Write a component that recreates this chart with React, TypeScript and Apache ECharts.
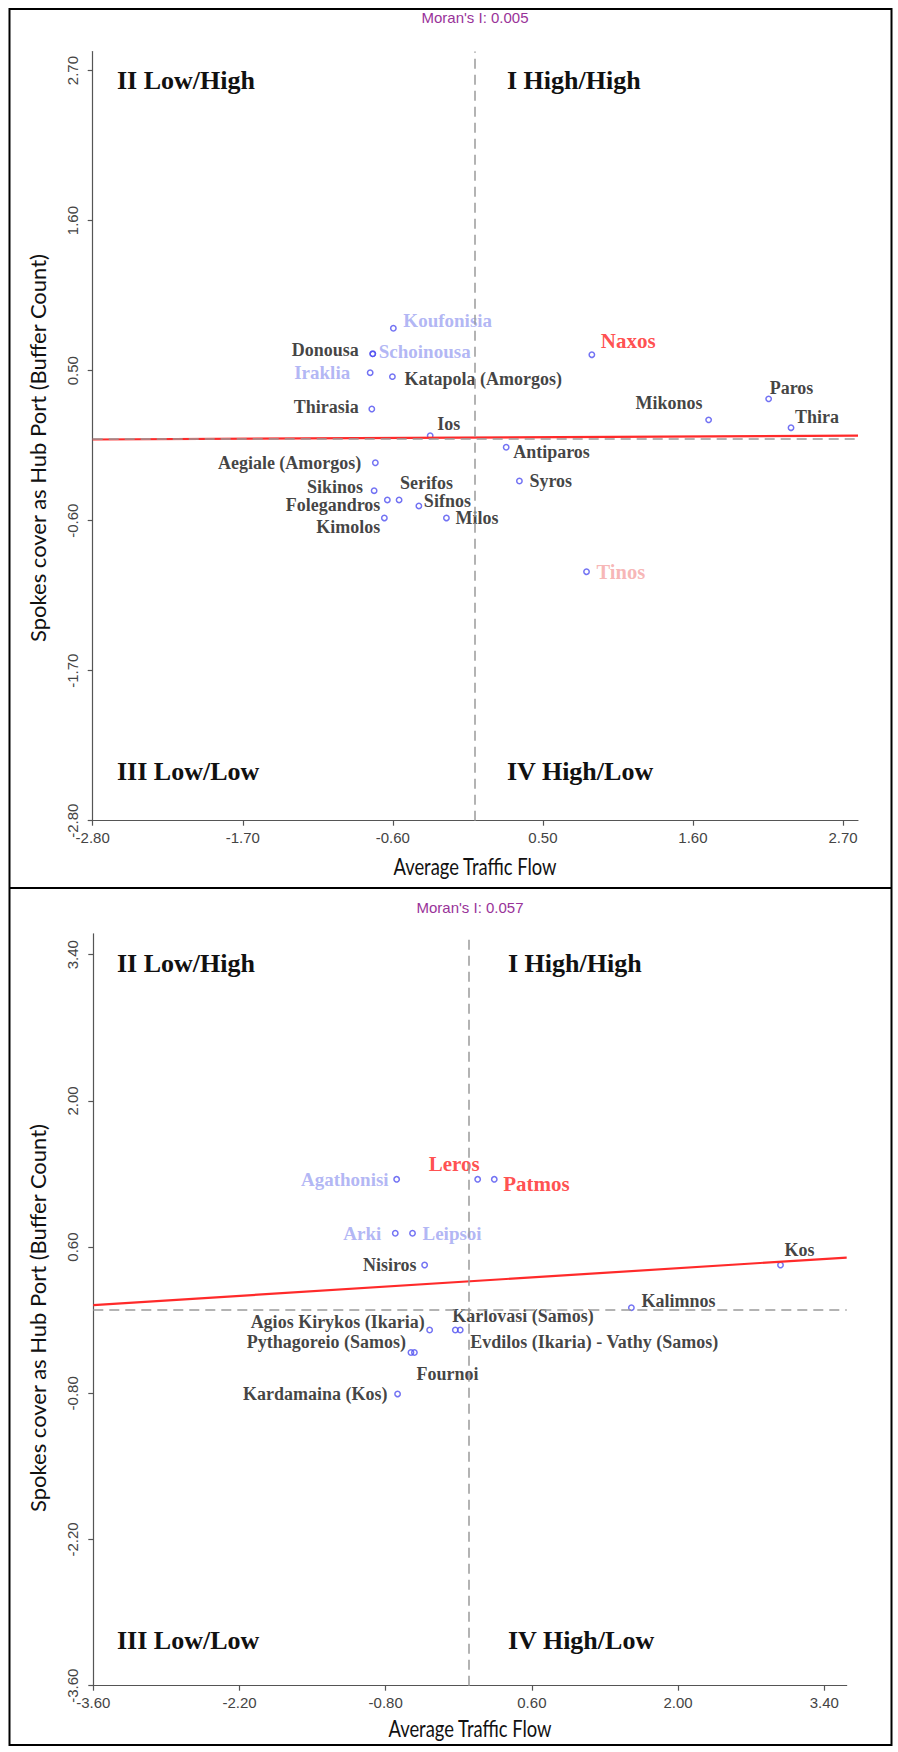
import React, { useEffect, useRef } from "react";
import * as echarts from "echarts";

// ---------- DATA ----------
const TOP_TICKS = ["-2.80", "-1.70", "-0.60", "0.50", "1.60", "2.70"];
const BOTTOM_TICKS = ["-3.60", "-2.20", "-0.80", "0.60", "2.00", "3.40"];

const TOP_MORAN = "Moran's I: 0.005";
const BOTTOM_MORAN = "Moran's I: 0.057";

const QUADRANTS = ["II Low/High", "I High/High", "III Low/Low", "IV High/Low"];
const X_TITLE = "Average Traffic Flow";
const Y_TITLE = "Spokes cover as Hub Port (Buffer Count)";

const TOP_PORTS = [
  "Koufonisia", "Donousa", "Schoinousa", "Iraklia", "Katapola (Amorgos)", "Thirasia", "Ios",
  "Aegiale (Amorgos)", "Sikinos", "Serifos", "Folegandros", "Sifnos", "Kimolos", "Milos",
  "Antiparos", "Syros", "Naxos", "Mikonos", "Paros", "Thira", "Tinos",
];
const TOP_X = [
  -0.596, -0.747, -0.747, -0.766, -0.603, -0.754, -0.326,
  -0.728, -0.737, -0.554, -0.640, -0.409, -0.662, -0.207,
  0.231, 0.328, 0.859, 1.715, 2.155, 2.319, 0.820,
];
const TOP_Y = [
  0.811, 0.623, 0.623, 0.485, 0.456, 0.219, 0.023,
  -0.175, -0.380, -0.448, -0.448, -0.492, -0.580, -0.580,
  -0.062, -0.309, 0.617, 0.139, 0.293, 0.082, -0.974,
];
const TOP_CLASS = [
  "blue", "black", "blue", "blue", "black", "black", "black",
  "black", "black", "black", "black", "black", "black", "black",
  "black", "black", "red", "black", "black", "black", "pink",
];
const TOP_FIT_X = [-2.8, 2.81];
const TOP_FIT_Y = [-0.005, 0.023];

const BOTTOM_PORTS = [
  "Agathonisi", "Leros", "Patmos", "Arki", "Leipsoi", "Nisiros", "Kos", "Kalimnos",
  "Agios Kirykos (Ikaria)", "Karlovasi (Samos)", "Evdilos (Ikaria) - Vathy (Samos)",
  "Pythagoreio (Samos)", "Fournoi", "Kardamaina (Kos)",
];
const BOTTOM_X = [-0.695, 0.081, 0.240, -0.708, -0.543, -0.427, 2.981, 1.553, -0.379, -0.133, -0.086, -0.558, -0.525, -0.686];
const BOTTOM_Y = [1.249, 1.249, 1.249, 0.732, 0.732, 0.429, 0.429, 0.02, -0.194, -0.194, -0.194, -0.409, -0.409, -0.806];
const BOTTOM_CLASS = ["blue", "red", "red", "blue", "blue", "black", "black", "black", "black", "black", "black", "black", "black", "black"];
const BOTTOM_FIT_X = [-3.6, 3.615];
const BOTTOM_FIT_Y = [0.045, 0.5];

// ---------- LABEL PLACEMENT (side, dx, dy in px) ----------
const TOP_PLACE: Record<string, [string, number, number]> = {
  Koufonisia: ["right", 10, -8],
  Donousa: ["left", -14, -4],
  Schoinousa: ["right", 6, -2],
  Iraklia: ["left", -20, 0],
  "Katapola (Amorgos)": ["right", 12, 2],
  Thirasia: ["left", -13, -2],
  Ios: ["right", 7, -12],
  "Aegiale (Amorgos)": ["left", -14, 0],
  Sikinos: ["left", -11, -4],
  Serifos: ["right", 1, -17],
  Folegandros: ["left", -7, 5],
  Sifnos: ["right", 5, -5],
  Kimolos: ["left", -4, 9],
  Milos: ["right", 9, 0],
  Antiparos: ["right", 7, 5],
  Syros: ["right", 10, 0],
  Naxos: ["right", 9, -14],
  Mikonos: ["left", -6, -17],
  Paros: ["right", 1, -11],
  Thira: ["right", 4, -11],
  Tinos: ["right", 10, 0],
};
const BOTTOM_PLACE: Record<string, [string, number, number]> = {
  Agathonisi: ["left", -8, 0],
  Leros: ["left", 2, -15],
  Patmos: ["right", 9, 5],
  Arki: ["left", -14, 0],
  Leipsoi: ["right", 10, 0],
  Nisiros: ["left", -8, 0],
  Kos: ["right", 4, -15],
  Kalimnos: ["right", 10, -7],
  "Agios Kirykos (Ikaria)": ["left", -5, -8],
  "Karlovasi (Samos)": ["right", -3, -14],
  "Evdilos (Ikaria) - Vathy (Samos)": ["right", 10, 12],
  "Pythagoreio (Samos)": ["left", -5, -10],
  Fournoi: ["right", 2, 22],
  "Kardamaina (Kos)": ["left", -10, 0],
};

const SERIF = "'Liberation Serif', 'Times New Roman', serif";
const SANS = "'Liberation Sans', Arial, sans-serif";
const HUMANIST = "Lato, 'Open Sans', sans-serif";

const CLASS_STYLE: Record<string, { color: string; size: number }> = {
  black: { color: "#111111", size: 18 },
  blue: { color: "#9ea4f2", size: 19 },
  red: { color: "#ff2222", size: 21 },
  pink: { color: "#f5a3a3", size: 20.5 },
};

function buildPoints(ports: string[], xs: number[], ys: number[], classes: string[], place: Record<string, [string, number, number]>) {
  return ports.map((name, i) => {
    const st = CLASS_STYLE[classes[i]];
    const [side, dx, dy] = place[name];
    return {
      name,
      value: [xs[i], ys[i]],
      label: {
        show: true,
        formatter: "{b}",
        position: "inside",
        align: side === "left" ? "right" : "left",
        verticalAlign: "middle",
        offset: [dx, dy],
        color: st.color,
        fontSize: st.size,
        fontFamily: SERIF,
        fontWeight: "bold",
      },
    };
  });
}

function xAxisCfg(gridIndex: number, min: number, max: number, ticks: string[]) {
  const vals = ticks.map(Number);
  return {
    type: "value",
    gridIndex,
    min,
    max,
    axisLine: { show: true, onZero: false, lineStyle: { color: "#555", width: 1.2 } },
    axisTick: { show: true, length: 5, customValues: vals, lineStyle: { color: "#555", width: 1.2 } },
    axisLabel: {
      show: true,
      customValues: vals,
      formatter: (v: number) => ticks[vals.findIndex((t) => Math.abs(t - v) < 1e-6)] ?? "",
      color: "#444",
      fontSize: 15,
      fontFamily: SANS,
      margin: 9,
    },
    splitLine: { show: false },
  };
}

function yAxisCfg(gridIndex: number, min: number, max: number, ticks: string[]) {
  const cfg: any = xAxisCfg(gridIndex, min, max, ticks);
  cfg.axisLabel.rotate = 90;
  cfg.axisLabel.margin = 13;
  return cfg;
}

function refLines() {
  return {
    silent: true,
    symbol: "none",
    label: { show: false },
    lineStyle: { type: [10, 6], color: "#9a9a9a", width: 1.5 },
    data: [{ xAxis: 0 }, { yAxis: 0 }],
  };
}

const POINT_STYLE = { color: "rgba(0,0,0,0)", borderColor: "#4f4ff0", borderWidth: 1.5 };

export default function App() {
  const ref = useRef<HTMLDivElement>(null);
  useEffect(() => {
    if (!ref.current) return;
    const chart = echarts.init(ref.current, null, { renderer: "svg" });

    const textEl = (text: string, x: number, y: number, style: any, extra: any = {}) => ({
      type: "text",
      x,
      y,
      silent: true,
      ...extra,
      style: { text, align: "center", verticalAlign: "middle", ...style },
    });
    const quad = (text: string, x: number, y: number) =>
      textEl(text, x, y, { align: "left", fill: "#111", fontSize: 26, fontWeight: "bold", fontFamily: SERIF });
    const moran = (text: string, x: number, y: number) =>
      textEl(text, x, y, { fill: "#993399", fontSize: 15, fontFamily: SANS });
    const xt = (x: number, y: number) =>
      textEl(X_TITLE, x, y, { fill: "#111", fontSize: 23, fontFamily: HUMANIST }, { scaleX: 0.8 });
    const yt = (x: number, y: number) =>
      textEl(Y_TITLE, x, y, { fill: "#111", fontSize: 22, fontFamily: HUMANIST }, { rotation: Math.PI / 2 });

    const option: any = {
      animation: false,
      backgroundColor: "#ffffff",
      grid: [
        { left: 92.7, top: 51.5, width: 765.3, height: 769.2 },
        { left: 93.3, top: 933.8, width: 753.4, height: 751.9 },
      ],
      xAxis: [xAxisCfg(0, -2.8, 2.81, TOP_TICKS), xAxisCfg(1, -3.6, 3.615, BOTTOM_TICKS)],
      yAxis: [yAxisCfg(0, -2.8, 2.84, TOP_TICKS), yAxisCfg(1, -3.6, 3.6, BOTTOM_TICKS)],
      series: [
        {
          type: "scatter",
          xAxisIndex: 0,
          yAxisIndex: 0,
          symbol: "circle",
          symbolSize: 5.4,
          itemStyle: POINT_STYLE,
          data: buildPoints(TOP_PORTS, TOP_X, TOP_Y, TOP_CLASS, TOP_PLACE),
          markLine: refLines(),
          z: 3,
        },
        {
          type: "line",
          xAxisIndex: 0,
          yAxisIndex: 0,
          symbol: "none",
          lineStyle: { color: "#ff2a2a", width: 2.2 },
          data: TOP_FIT_X.map((x, i) => [x, TOP_FIT_Y[i]]),
          z: 4,
        },
        {
          type: "scatter",
          xAxisIndex: 1,
          yAxisIndex: 1,
          symbol: "circle",
          symbolSize: 5.4,
          itemStyle: POINT_STYLE,
          data: buildPoints(BOTTOM_PORTS, BOTTOM_X, BOTTOM_Y, BOTTOM_CLASS, BOTTOM_PLACE),
          markLine: refLines(),
          z: 3,
        },
        {
          type: "line",
          xAxisIndex: 1,
          yAxisIndex: 1,
          symbol: "none",
          lineStyle: { color: "#ff2a2a", width: 2.2 },
          data: BOTTOM_FIT_X.map((x, i) => [x, BOTTOM_FIT_Y[i]]),
          z: 4,
        },
      ],
      graphic: [
        { type: "rect", silent: true, shape: { x: 9.5, y: 9, width: 882, height: 1736 }, style: { fill: "none", stroke: "#000", lineWidth: 2 } },
        { type: "line", silent: true, shape: { x1: 9.5, y1: 888, x2: 891.5, y2: 888 }, style: { stroke: "#000", lineWidth: 2 } },
        moran(TOP_MORAN, 475, 17),
        moran(BOTTOM_MORAN, 470, 907),
        quad(QUADRANTS[0], 117, 80),
        quad(QUADRANTS[1], 507, 80),
        quad(QUADRANTS[2], 117, 771),
        quad(QUADRANTS[3], 507, 771),
        quad(QUADRANTS[0], 117, 963),
        quad(QUADRANTS[1], 508, 963),
        quad(QUADRANTS[2], 117, 1640),
        quad(QUADRANTS[3], 508, 1640),
        xt(475, 866),
        xt(470, 1728),
        yt(37, 448),
        yt(37, 1318),
      ],
    };
    chart.setOption(option);
    return () => chart.dispose();
  }, []);

  return (
    <div
      ref={ref}
      style={{ position: "absolute", left: 0, top: 0, width: 898, height: 1752, background: "#fff" }}
    />
  );
}
